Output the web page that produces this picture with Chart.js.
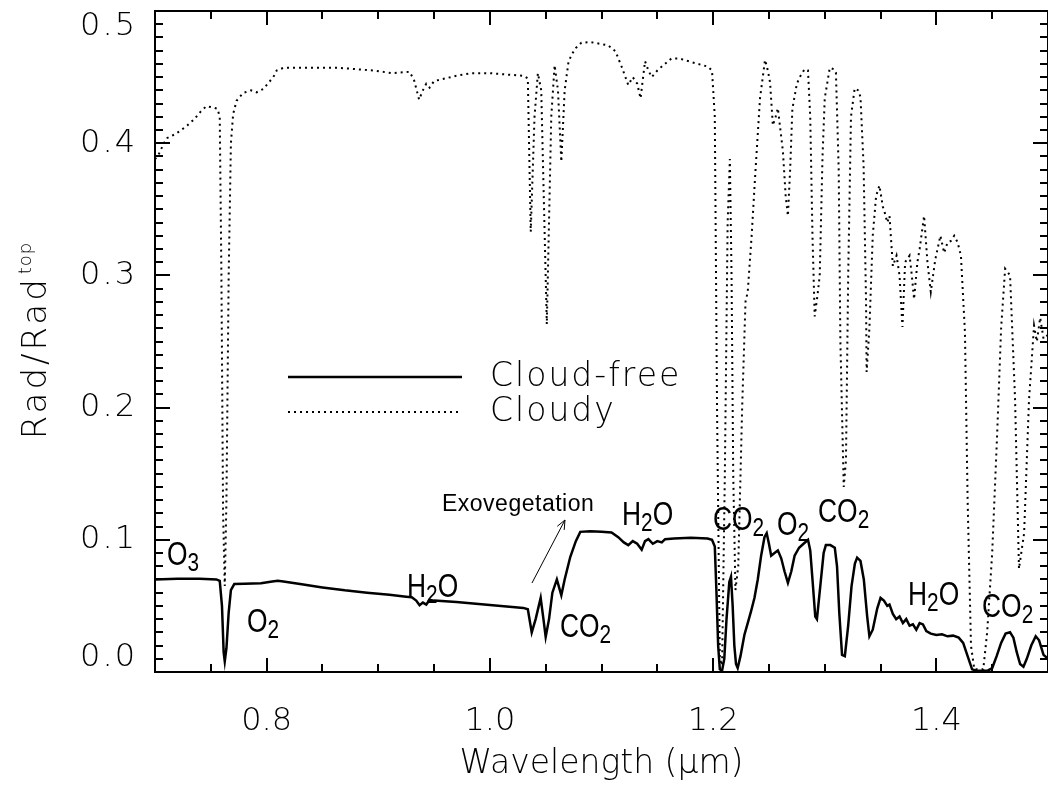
<!DOCTYPE html>
<html>
<head>
<meta charset="utf-8">
<title>Rad/Rad top spectrum</title>
<script src="https://cdn.jsdelivr.net/npm/chart.js@4.4.0/dist/chart.umd.min.js"></script>
<style>
  html, body { margin: 0; padding: 0; background: #fff; }
  #wrap { width: 1048px; height: 790px; position: relative; }
</style>
</head>
<body>
<div id="wrap"><canvas id="spectrum"></canvas></div>
<script>
// cloud-free spectrum: wavelength (um) and radiance ratio
const clearWl = [
  0.700, 0.720, 0.740, 0.755, 0.758, 0.760, 0.7615, 0.7625, 0.764, 0.766, 0.768, 0.771,
  0.780, 0.795, 0.805, 0.810, 0.815, 0.830, 0.850, 0.870, 0.890, 0.910, 0.925, 0.930,
  0.934, 0.937, 0.940, 0.943, 0.946, 0.950, 0.970, 0.990, 1.010, 1.030, 1.034, 1.0375,
  1.041, 1.0455, 1.048, 1.050, 1.053, 1.056, 1.060, 1.062, 1.064, 1.067, 1.072, 1.077,
  1.081, 1.090, 1.100, 1.109, 1.115, 1.120, 1.124, 1.128, 1.132, 1.136, 1.139, 1.142,
  1.146, 1.150, 1.154, 1.157, 1.165, 1.180, 1.195, 1.199, 1.2015, 1.203, 1.2045, 1.206,
  1.208, 1.210, 1.212, 1.2145, 1.216, 1.2175, 1.219, 1.2205, 1.222, 1.2245, 1.228, 1.231,
  1.234, 1.237, 1.240, 1.243, 1.246, 1.248, 1.250, 1.252, 1.255, 1.258, 1.261, 1.264,
  1.267, 1.270, 1.273, 1.277, 1.281, 1.285, 1.287, 1.289, 1.2915, 1.293, 1.296, 1.299,
  1.301, 1.305, 1.309, 1.311, 1.313, 1.3155, 1.318, 1.321, 1.324, 1.327, 1.329, 1.332,
  1.335, 1.338, 1.340, 1.343, 1.347, 1.350, 1.353, 1.356, 1.358, 1.361, 1.364, 1.367,
  1.370, 1.373, 1.376, 1.379, 1.382, 1.385, 1.388, 1.391, 1.395, 1.400, 1.405, 1.410,
  1.415, 1.420, 1.424, 1.428, 1.432, 1.436, 1.446, 1.450, 1.454, 1.458, 1.462, 1.466,
  1.469, 1.472, 1.475, 1.478, 1.481, 1.485, 1.489, 1.492, 1.496, 1.500
];
const clearRad = [
  0.070, 0.0705, 0.0705, 0.070, 0.069, 0.050, 0.015, 0.008, 0.018, 0.045, 0.062, 0.0665,
  0.0668, 0.0672, 0.0685, 0.069, 0.0685, 0.0665, 0.064, 0.0618, 0.060, 0.0585, 0.057, 0.0565,
  0.054, 0.0505, 0.0525, 0.051, 0.0545, 0.054, 0.053, 0.0515, 0.050, 0.0485, 0.0475, 0.030,
  0.040, 0.056, 0.040, 0.0265, 0.040, 0.060, 0.070, 0.064, 0.058, 0.070, 0.087, 0.099,
  0.106, 0.1065, 0.106, 0.1055, 0.102, 0.098, 0.096, 0.099, 0.097, 0.0925, 0.099, 0.1005,
  0.097, 0.099, 0.098, 0.1005, 0.101, 0.1015, 0.101, 0.100, 0.095, 0.060, 0.020, 0.002,
  0.001, 0.010, 0.040, 0.068, 0.072, 0.050, 0.020, 0.006, 0.003, 0.012, 0.028, 0.037,
  0.046, 0.056, 0.070, 0.088, 0.102, 0.105, 0.097, 0.088, 0.090, 0.092, 0.086, 0.076,
  0.0675, 0.076, 0.088, 0.094, 0.097, 0.100, 0.092, 0.070, 0.042, 0.040, 0.065, 0.090,
  0.096, 0.096, 0.094, 0.080, 0.045, 0.013, 0.012, 0.035, 0.065, 0.082, 0.0865, 0.084,
  0.070, 0.042, 0.027, 0.032, 0.048, 0.056, 0.054, 0.050, 0.051, 0.044, 0.040, 0.042,
  0.037, 0.040, 0.035, 0.036, 0.032, 0.037, 0.036, 0.031, 0.029, 0.028, 0.0285, 0.027,
  0.0275, 0.026, 0.022, 0.012, 0.002, 0.001, 0.001, 0.003, 0.012, 0.022, 0.029, 0.030,
  0.026, 0.015, 0.006, 0.004, 0.010, 0.020, 0.027, 0.024, 0.013, 0.010
];

// cloudy spectrum
const cloudyWl = [
  0.700, 0.703, 0.708, 0.711, 0.716, 0.722, 0.729, 0.735, 0.741, 0.746, 0.752, 0.756,
  0.758, 0.7595, 0.761, 0.7625, 0.764, 0.766, 0.768, 0.770, 0.773, 0.779, 0.786, 0.791,
  0.797, 0.802, 0.806, 0.809, 0.815, 0.835, 0.865, 0.895, 0.9125, 0.928, 0.932, 0.9366,
  0.940, 0.943, 0.946, 0.950, 0.960, 0.970, 0.984, 1.000, 1.014, 1.030, 1.034, 1.0366,
  1.040, 1.043, 1.046, 1.051, 1.055, 1.058, 1.061, 1.064, 1.067, 1.0705, 1.074, 1.077,
  1.082, 1.090, 1.100, 1.106, 1.1125, 1.118, 1.124, 1.128, 1.132, 1.135, 1.139, 1.142,
  1.145, 1.150, 1.154, 1.1625, 1.170, 1.184, 1.195, 1.199, 1.2015, 1.2035, 1.206, 1.208,
  1.2105, 1.213, 1.215, 1.2165, 1.218, 1.220, 1.2225, 1.226, 1.229, 1.231, 1.2345, 1.238,
  1.242, 1.2465, 1.249, 1.251, 1.2535, 1.256, 1.258, 1.2625, 1.265, 1.267, 1.269, 1.271,
  1.275, 1.2786, 1.282, 1.285, 1.287, 1.289, 1.291, 1.2935, 1.2955, 1.298, 1.300, 1.3045,
  1.308, 1.310, 1.3125, 1.314, 1.317, 1.319, 1.321, 1.3235, 1.3268, 1.330, 1.332, 1.3348,
  1.337, 1.3375, 1.340, 1.343, 1.346, 1.349, 1.352, 1.3536, 1.356, 1.358, 1.361, 1.3643,
  1.367, 1.3696, 1.372, 1.376, 1.378, 1.380, 1.383, 1.385, 1.389, 1.392, 1.395, 1.399,
  1.4036, 1.407, 1.410, 1.413, 1.416, 1.419, 1.422, 1.4256, 1.428, 1.431, 1.434, 1.442,
  1.4455, 1.450, 1.4545, 1.458, 1.4616, 1.466, 1.4705, 1.474, 1.4786, 1.483, 1.4875, 1.490,
  1.493, 1.496, 1.500
];
const cloudyRad = [
  0.388, 0.391, 0.400, 0.404, 0.406, 0.409, 0.4135, 0.418, 0.424, 0.428, 0.427, 0.426,
  0.420, 0.300, 0.120, 0.065, 0.130, 0.300, 0.400, 0.422, 0.432, 0.438, 0.440, 0.4385,
  0.441, 0.446, 0.450, 0.455, 0.457, 0.457, 0.457, 0.455, 0.453, 0.454, 0.448, 0.433,
  0.440, 0.445, 0.442, 0.447, 0.449, 0.451, 0.453, 0.453, 0.452, 0.451, 0.449, 0.333,
  0.420, 0.453, 0.440, 0.263, 0.420, 0.459, 0.440, 0.386, 0.440, 0.462, 0.468, 0.472,
  0.476, 0.4765, 0.475, 0.474, 0.4695, 0.458, 0.444, 0.450, 0.445, 0.434, 0.462, 0.455,
  0.450, 0.455, 0.458, 0.464, 0.464, 0.4605, 0.458, 0.455, 0.420, 0.200, 0.010, 0.005,
  0.150, 0.340, 0.388, 0.300, 0.150, 0.062, 0.080, 0.200, 0.280, 0.2875, 0.330, 0.380,
  0.434, 0.463, 0.455, 0.446, 0.4135, 0.420, 0.4265, 0.394, 0.360, 0.345, 0.380, 0.426,
  0.445, 0.4515, 0.456, 0.455, 0.420, 0.330, 0.269, 0.285, 0.300, 0.390, 0.434, 0.457,
  0.456, 0.4535, 0.380, 0.250, 0.140, 0.160, 0.300, 0.420, 0.4415, 0.440, 0.435, 0.383,
  0.280, 0.227, 0.260, 0.330, 0.360, 0.368, 0.352, 0.348, 0.340, 0.345, 0.307, 0.315,
  0.300, 0.261, 0.310, 0.315, 0.300, 0.282, 0.310, 0.320, 0.345, 0.310, 0.2875, 0.312,
  0.330, 0.317, 0.325, 0.326, 0.330, 0.325, 0.315, 0.257, 0.130, 0.020, 0.002, 0.002,
  0.030, 0.090, 0.181, 0.260, 0.305, 0.300, 0.206, 0.078, 0.105, 0.206, 0.262, 0.250,
  0.268, 0.252, 0.255
];

const seriesNames = ['Cloud-free', 'Cloudy'];
const xTickLabels = ['0.8', '1.0', '1.2', '1.4'];
const yTickLabels = ['0.0', '0.1', '0.2', '0.3', '0.4', '0.5'];

// band labels: text ("_" marks a subscript digit), wavelength, radiance of baseline
const bandLabels = [
  ['O_3', 0.7108, 0.0809],
  ['O_2', 0.7824, 0.0303],
  ['H_2O', 0.9258, 0.0567],
  ['CO_2', 1.0628, 0.0265],
  ['H_2O', 1.1184, 0.1112],
  ['CO_2', 1.1999, 0.1074],
  ['O_2', 1.2572, 0.1036],
  ['CO_2', 1.2940, 0.1135],
  ['H_2O', 1.3746, 0.0507],
  ['CO_2', 1.4409, 0.0416]
];
const vegLabel = ['Exovegetation', 0.9571, 0.1218];
const vegArrow = [1.0377, 0.0673, 1.0673, 0.115];

const AXIS_FONT = "'DejaVu Sans'";

function toPoints(xs, ys) {
  return xs.map((x, i) => ({ x: x, y: ys[i] }));
}

// frame with inward ticks, y labels, y title, band labels and legend
const decorations = {
  id: 'decorations',
  afterDraw(chart) {
    const { ctx, chartArea: a, scales: { x, y } } = chart;
    ctx.save();
    ctx.setLineDash([]);
    ctx.strokeStyle = '#000';
    ctx.fillStyle = '#000';

    ctx.lineWidth = 2;
    ctx.strokeRect(a.left, a.top, a.right - a.left, a.bottom - a.top);

    // minor ticks every 0.05 um / 0.01, major every 0.2 um / 0.1
    const L = Math.round(a.left), R = Math.round(a.right);
    const T = Math.round(a.top), B = Math.round(a.bottom);
    for (let k = 15; k < 30; k++) {
      const px = Math.round(x.getPixelForValue(k * 0.05));
      const len = k % 4 === 0 ? 14 : 8;
      ctx.fillRect(px - 1, B - len, 2, len);
      ctx.fillRect(px - 1, T, 2, len);
    }
    for (let i = 1; i < 50; i++) {
      const py = Math.round(y.getPixelForValue(i * 0.01));
      const len = i % 10 === 0 ? 15 : 8;
      ctx.fillRect(L, py - 1, len, 2);
      ctx.fillRect(R - len, py - 1, len, 2);
    }

    // y tick labels, end labels kept inside the frame
    ctx.font = '200 32px ' + AXIS_FONT;
    ctx.letterSpacing = '2px';
    ctx.textAlign = 'right';
    ctx.textBaseline = 'middle';
    yTickLabels.forEach(s => {
      let py = y.getPixelForValue(parseFloat(s));
      py = Math.min(Math.max(py, a.top + 16), a.bottom - 14);
      ctx.fillText(s, a.left - 18, py);
    });

    // y title Rad/Rad^top
    ctx.save();
    ctx.translate(46, (a.top + a.bottom) / 2);
    ctx.rotate(-Math.PI / 2);
    ctx.textAlign = 'left';
    ctx.textBaseline = 'alphabetic';
    ctx.font = '200 34px ' + AXIS_FONT;
    ctx.letterSpacing = '3px';
    const mainW = ctx.measureText('Rad/Rad').width;
    ctx.font = '200 18px ' + AXIS_FONT;
    ctx.letterSpacing = '1px';
    const supW = ctx.measureText('top').width;
    const start = -(mainW + supW) / 2;
    ctx.font = '200 34px ' + AXIS_FONT;
    ctx.letterSpacing = '3px';
    ctx.fillText('Rad/Rad', start, 0);
    ctx.font = '200 18px ' + AXIS_FONT;
    ctx.letterSpacing = '1px';
    ctx.fillText('top', start + mainW + 2, -15);
    ctx.restore();

    // legend
    const lx0 = a.left + 133, lx1 = a.left + 307;
    const rows = [a.top + 366, a.top + 401];
    chart.data.datasets.forEach((ds, i) => {
      ctx.save();
      ctx.lineWidth = ds.borderWidth;
      ctx.setLineDash(ds.borderDash || []);
      ctx.beginPath();
      ctx.moveTo(lx0, rows[i]);
      ctx.lineTo(lx1, rows[i]);
      ctx.stroke();
      ctx.restore();
      ctx.font = '200 33px ' + AXIS_FONT;
      ctx.letterSpacing = '2px';
      ctx.textAlign = 'left';
      ctx.textBaseline = 'middle';
      ctx.fillText(ds.label, lx1 + 28, rows[i]);
    });

    // absorption band labels, condensed sans
    ctx.letterSpacing = '0px';
    ctx.textAlign = 'left';
    ctx.textBaseline = 'alphabetic';
    bandLabels.forEach(([text, wl, val]) => {
      ctx.save();
      ctx.translate(x.getPixelForValue(wl), y.getPixelForValue(val));
      ctx.scale(0.8, 1);
      let cx = 0;
      for (let j = 0; j < text.length; j++) {
        if (text[j] === '_') {
          j++;
          ctx.font = "26px 'Liberation Sans'";
          ctx.fillText(text[j], cx, 6);
        } else {
          ctx.font = "33px 'Liberation Sans'";
          ctx.fillText(text[j], cx, 0);
        }
        cx += ctx.measureText(text[j]).width;
      }
      ctx.restore();
    });

    ctx.font = "23px 'Liberation Sans'";
    ctx.letterSpacing = '0.5px';
    ctx.fillText(vegLabel[0], x.getPixelForValue(vegLabel[1]), y.getPixelForValue(vegLabel[2]));
    ctx.letterSpacing = '0px';

    // arrow toward the red edge
    const ax0 = x.getPixelForValue(vegArrow[0]), ay0 = y.getPixelForValue(vegArrow[1]);
    const ax1 = x.getPixelForValue(vegArrow[2]), ay1 = y.getPixelForValue(vegArrow[3]);
    const ang = Math.atan2(ay1 - ay0, ax1 - ax0);
    ctx.lineWidth = 1;
    ctx.beginPath();
    ctx.moveTo(ax0, ay0);
    ctx.lineTo(ax1, ay1);
    ctx.moveTo(ax1, ay1);
    ctx.lineTo(ax1 - 10 * Math.cos(ang - 0.4), ay1 - 10 * Math.sin(ang - 0.4));
    ctx.moveTo(ax1, ay1);
    ctx.lineTo(ax1 - 10 * Math.cos(ang + 0.4), ay1 - 10 * Math.sin(ang + 0.4));
    ctx.stroke();

    ctx.restore();
  }
};

const ctx = document.getElementById('spectrum').getContext('2d');
const spectrumChart = new Chart(ctx, {
  type: 'line',
  data: {
    datasets: [
      {
        label: seriesNames[0],
        data: toPoints(clearWl, clearRad),
        borderColor: '#000',
        borderWidth: 2.5,
        pointRadius: 0,
        tension: 0
      },
      {
        label: seriesNames[1],
        data: toPoints(cloudyWl, cloudyRad),
        borderColor: '#000',
        borderWidth: 2,
        borderDash: [2, 4],
        pointRadius: 0,
        tension: 0
      }
    ]
  },
  options: {
    responsive: true,
    maintainAspectRatio: false,
    animation: false,
    layout: { padding: { top: 11, right: 0, bottom: 0, left: 0 } },
    plugins: {
      legend: { display: false },
      tooltip: { enabled: false }
    },
    scales: {
      x: {
        type: 'linear',
        min: 0.7,
        max: 1.5,
        afterBuildTicks: s => { s.ticks = xTickLabels.map(v => ({ value: parseFloat(v) })); },
        afterFit: s => { s.height = 118; },
        grid: { display: false, drawTicks: false },
        border: { display: false },
        ticks: {
          color: '#000',
          padding: 30,
          maxRotation: 0,
          font: { family: AXIS_FONT, size: 32, weight: 200 },
          callback: (v, i) => xTickLabels[i]
        },
        title: {
          display: true,
          text: 'Wavelength (μm)',
          color: '#000',
          padding: { top: 0, bottom: 6 },
          font: { family: AXIS_FONT, size: 33, weight: 200 }
        }
      },
      y: {
        min: 0,
        max: 0.5,
        afterFit: s => { s.width = 155; },
        grid: { display: false, drawTicks: false },
        border: { display: false },
        ticks: { display: false }
      }
    }
  },
  plugins: [decorations]
});
</script>
</body>
</html>
